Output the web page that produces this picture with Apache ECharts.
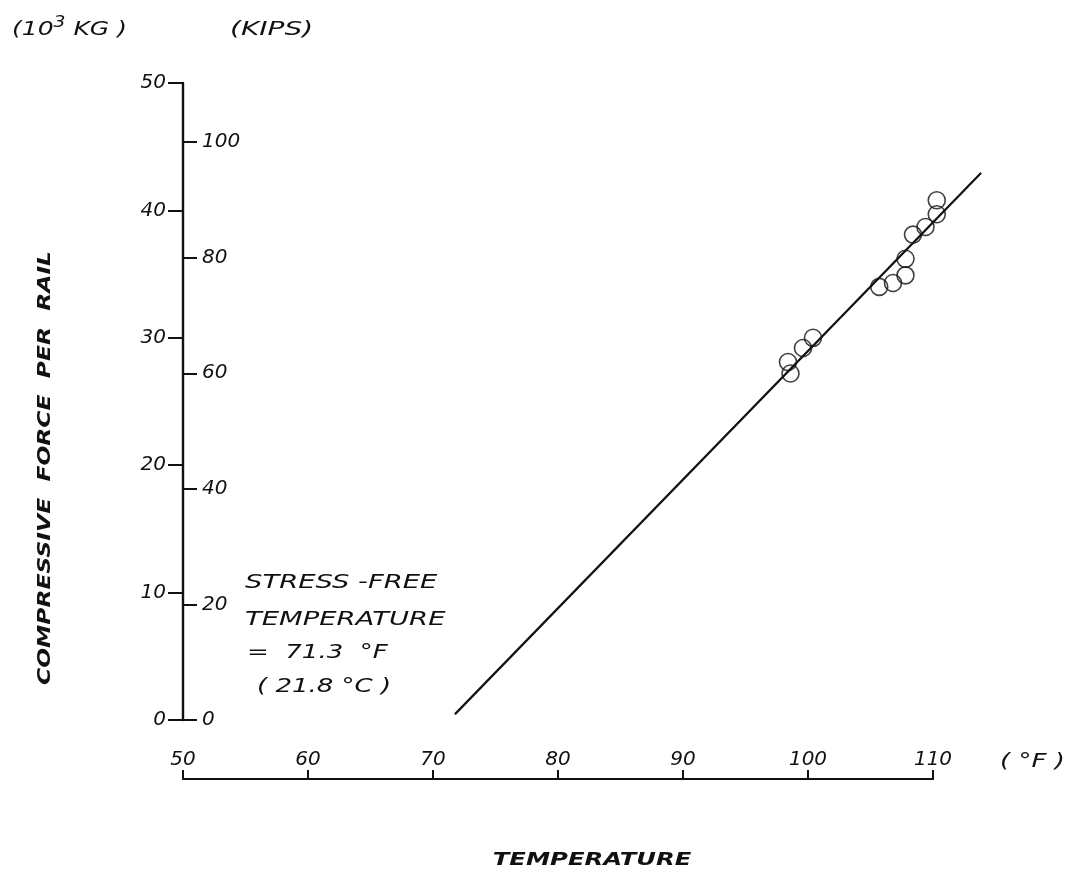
<!DOCTYPE html>
<html><head><meta charset="utf-8">
<script src="https://cdn.jsdelivr.net/npm/echarts@6/dist/echarts.min.js"></script>
<style>html,body{margin:0;padding:0;background:#fff}#c{width:1080px;height:877px}</style>
</head><body><div id="c"></div>
<script>
// measured temperatures (°F) and compressive force per rail (10^3 kg)
const tempF   = [110.3, 110.3, 109.4, 108.4, 107.8, 107.8, 106.8, 105.7, 100.4, 99.6, 98.4, 98.6];
const forceKg = [40.8, 39.7, 38.7, 38.1, 36.2, 34.9, 34.3, 34.0, 30.0, 29.2, 28.1, 27.2];
// fitted line end points
const fitTemp  = [71.8, 113.8];
const fitForce = [0.5, 42.9];
// axis ticks
const xTicks    = [50, 60, 70, 80, 90, 100, 110];
const kgTicks   = [0, 10, 20, 30, 40, 50];
const kipsTicks = [0, 20, 40, 60, 80, 100];
const KG_PER_KIP = 0.45359237;

const ink = '#111';
const thin = 'italic 20px "DejaVu Sans"';
const bold = 'italic bold 18px "DejaVu Sans"';

const chart = echarts.init(document.getElementById('c'), null, {renderer: 'canvas'});
chart.setOption({
  animation: false,
  backgroundColor: '#fff',
  grid: {left: 183, right: 147, top: 83, bottom: 157},
  xAxis: {
    type: 'value', min: xTicks[0], max: xTicks[xTicks.length - 1], interval: 10,
    offset: 59,
    axisLine: {onZero: false, lineStyle: {color: ink, width: 2.2}},
    axisTick: {inside: true, length: 9, lineStyle: {color: ink, width: 2}},
    axisLabel: {inside: true, margin: 9, color: ink, fontFamily: 'DejaVu Sans', fontStyle: 'italic', fontSize: 20},
    splitLine: {show: false}
  },
  yAxis: [{
    type: 'value', min: kgTicks[0], max: kgTicks[kgTicks.length - 1], interval: 10,
    position: 'left',
    axisLine: {show: true, onZero: false, lineStyle: {color: ink, width: 2.4}},
    axisTick: {show: true, length: 15, lineStyle: {color: ink, width: 2}},
    axisLabel: {margin: 17, color: ink, fontFamily: 'DejaVu Sans', fontStyle: 'italic', fontSize: 20},
    splitLine: {show: false}
  }, {
    type: 'value', min: 0, max: kgTicks[kgTicks.length - 1] / KG_PER_KIP,
    position: 'left',
    axisLine: {show: false, onZero: false},
    axisTick: {show: true, inside: true, length: 14, customValues: kipsTicks, lineStyle: {color: ink, width: 2}},
    axisLabel: {inside: true, margin: 19, color: ink, fontFamily: 'DejaVu Sans', fontStyle: 'italic', fontSize: 20, customValues: kipsTicks},
    splitLine: {show: false}
  }],
  series: [{
    type: 'custom',
    clip: false,
    data: [[fitTemp[0], fitForce[0], fitTemp[1], fitForce[1]]],
    encode: {x: [0, 2], y: [1, 3]},
    renderItem: function (params, api) {
      const p1 = api.coord([api.value(0), api.value(1)]);
      const p2 = api.coord([api.value(2), api.value(3)]);
      return {type: 'line', shape: {x1: p1[0], y1: p1[1], x2: p2[0], y2: p2[1]},
              style: {stroke: ink, lineWidth: 2.2, lineCap: 'round'}};
    }
  }, {
    type: 'scatter',
    data: tempF.map((t, i) => [t, forceKg[i]]),
    symbol: 'circle', symbolSize: 17, clip: false,
    itemStyle: {color: 'rgba(0,0,0,0)', borderColor: ink, borderWidth: 1.6}
  }],
  graphic: [
    {type: 'text', x: 12, y: 30, scaleX: 1.25, style: {
      text: '{a|(10}{s|3}{a| KG )}', textVerticalAlign: 'middle', fill: ink,
      rich: {a: {font: thin, fill: ink}, s: {font: 'italic 15px "DejaVu Sans"', fill: ink, padding: [0, 0, 14, 0]}}}},
    {type: 'text', x: 230, y: 30, scaleX: 1.4, style: {text: '(KIPS)', font: thin, fill: ink, textVerticalAlign: 'middle'}},
    {type: 'text', x: 1000, y: 762, scaleX: 1.3, style: {text: '( °F )', font: thin, fill: ink, textVerticalAlign: 'middle'}},
    {type: 'text', x: 245, y: 583, scaleX: 1.37, style: {text: 'STRESS -FREE', font: thin, fill: ink, textVerticalAlign: 'middle'}},
    {type: 'text', x: 245, y: 620, scaleX: 1.37, style: {text: 'TEMPERATURE', font: thin, fill: ink, textVerticalAlign: 'middle'}},
    {type: 'text', x: 247, y: 653, scaleX: 1.3, style: {text: '=  71.3  °F', font: thin, fill: ink, textVerticalAlign: 'middle'}},
    {type: 'text', x: 257, y: 687, scaleX: 1.3, style: {text: '( 21.8 °C )', font: thin, fill: ink, textVerticalAlign: 'middle'}},
    {type: 'text', x: 592, y: 860, scaleX: 1.35, style: {text: 'TEMPERATURE', font: bold, fill: ink, textAlign: 'center', textVerticalAlign: 'middle'}},
    {type: 'text', x: 45, y: 468, rotation: Math.PI / 2, scaleX: 1.3, style: {text: 'COMPRESSIVE  FORCE  PER  RAIL', font: bold, fill: ink, textAlign: 'center', textVerticalAlign: 'middle'}}
  ]
});
</script></body></html>
